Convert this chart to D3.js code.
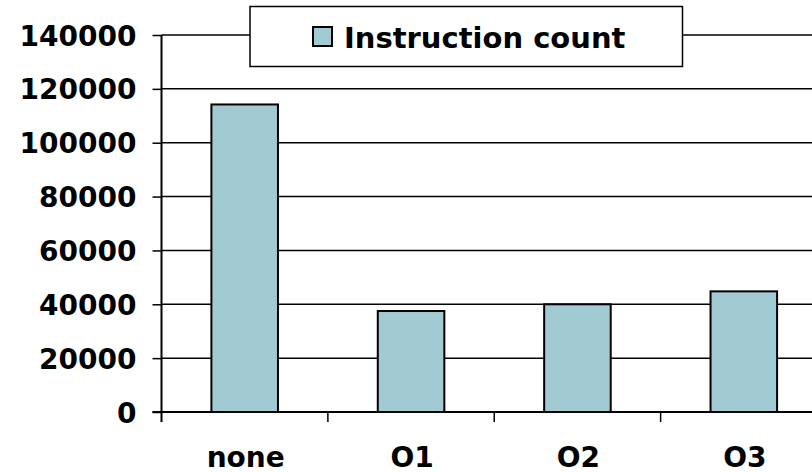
<!DOCTYPE html>
<html>
<head>
<meta charset="utf-8">
<script src="https://cdn.jsdelivr.net/npm/d3@7/dist/d3.min.js"></script>
<style>
  html, body { margin: 0; padding: 0; background: #fff; }
  svg { display: block; }
  text { font-family: "DejaVu Sans", Verdana, sans-serif; font-weight: bold; fill: #000; }
</style>
</head>
<body>
<svg id="chart" width="812" height="472"></svg>
<script>
const categories = ["none", "O1", "O2", "O3"];
const seriesName = "Instruction count";
const values = [114200, 37500, 40000, 44800];
const yTicks = [0, 20000, 40000, 60000, 80000, 100000, 120000, 140000];

const plotLeft = 161.5, plotRight = 827, plotTop = 35, plotBottom = 412;
const svg = d3.select("#chart");

const y = d3.scaleLinear().domain([0, 140000]).range([plotBottom, plotTop]);
const x = d3.scaleBand().domain(categories).range([plotLeft, plotRight])
  .paddingInner(0.6).paddingOuter(0.3);
const step = x.step();

// gridlines
svg.append("g").selectAll("line").data(yTicks.filter(d => d > 0)).join("line")
  .attr("x1", plotLeft).attr("x2", plotRight)
  .attr("y1", d => y(d)).attr("y2", d => y(d))
  .attr("stroke", "#000").attr("stroke-width", 1.5);

// bars
svg.append("g").selectAll("rect").data(values).join("rect")
  .attr("x", (d, i) => x(categories[i]))
  .attr("y", d => y(d))
  .attr("width", x.bandwidth())
  .attr("height", d => y(0) - y(d))
  .attr("fill", "#A2CAD3")
  .attr("stroke", "#000").attr("stroke-width", 2);

// y axis
const yAxis = svg.append("g").attr("transform", `translate(${plotLeft},0)`)
  .call(d3.axisLeft(y).tickValues(yTicks).tickSize(9).tickPadding(16).tickFormat(d3.format("d")));
yAxis.select(".domain").remove();
yAxis.selectAll(".tick line").attr("stroke", "#000").attr("stroke-width", 1.5);
yAxis.selectAll(".tick text").attr("font-size", 28).attr("dy", "0.36em")
  .style("font-family", "'DejaVu Sans', Verdana, sans-serif").style("font-weight", "bold").style("fill", "#000");
yAxis.append("line").attr("x1", 0).attr("x2", 0).attr("y1", plotTop).attr("y2", plotBottom + 10)
  .attr("stroke", "#000").attr("stroke-width", 2);

// x axis
svg.append("line").attr("x1", plotLeft - 9).attr("x2", plotRight).attr("y1", plotBottom).attr("y2", plotBottom)
  .attr("stroke", "#000").attr("stroke-width", 2);
svg.append("g").selectAll("line").data(d3.range(1, categories.length)).join("line")
  .attr("x1", i => plotLeft + i * step).attr("x2", i => plotLeft + i * step)
  .attr("y1", plotBottom).attr("y2", plotBottom + 10)
  .attr("stroke", "#000").attr("stroke-width", 1.5);
svg.append("g").selectAll("text").data(categories).join("text")
  .attr("x", d => x(d) + x.bandwidth() / 2 + 1)
  .attr("y", 467)
  .attr("text-anchor", "middle")
  .attr("font-size", 28)
  .text(d => d);

// legend
const lg = svg.append("g");
lg.append("rect").attr("x", 250).attr("y", 6.5).attr("width", 432.5).attr("height", 60)
  .attr("fill", "#fff").attr("stroke", "#000").attr("stroke-width", 1.5);
lg.append("rect").attr("x", 313).attr("y", 27).attr("width", 19).attr("height", 19)
  .attr("fill", "#A2CAD3").attr("stroke", "#000").attr("stroke-width", 2);
lg.append("text").attr("x", 344).attr("y", 47.5).attr("font-size", 29).text(seriesName);
</script>
</body>
</html>
